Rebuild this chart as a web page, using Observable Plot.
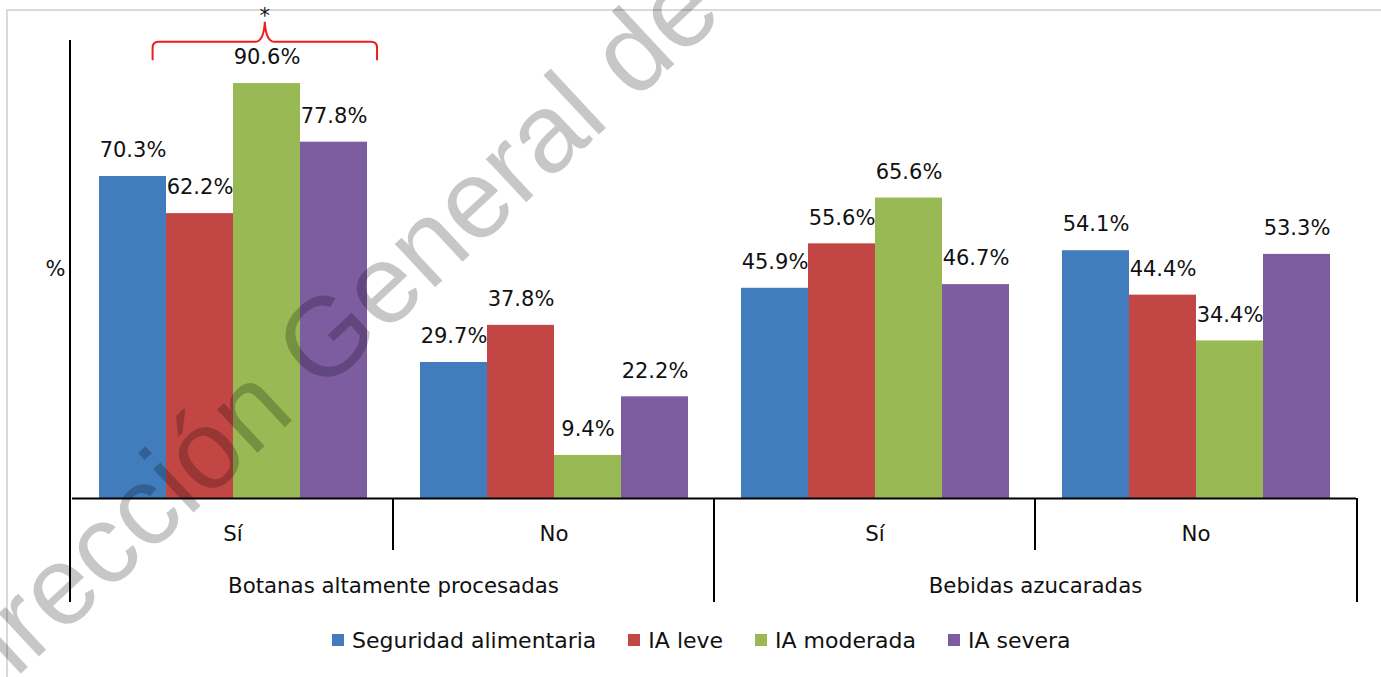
<!DOCTYPE html>
<html>
<head>
<meta charset="utf-8">
<script src="https://cdn.jsdelivr.net/npm/d3@7"></script>
<script src="https://cdn.jsdelivr.net/npm/@observablehq/plot@0.6"></script>
<style>
html, body { margin: 0; padding: 0; background: #fff; }
#page { position: relative; width: 1381px; height: 677px; overflow: hidden; font-family: "DejaVu Sans", sans-serif; }
#frame { position: absolute; left: 6px; top: 9px; right: -4px; bottom: -4px; border-left: 2px solid #dadada; border-top: 2px solid #dadada; }
#chart { position: absolute; left: 0; top: 0; }
#legend { position: absolute; left: 0; top: 628px; width: 1381px; height: 24px; display: flex; align-items: center; padding-left: 332px; box-sizing: border-box; font-size: 22px; color: #111; }
#legend .item { display: flex; align-items: center; margin-right: 32px; white-space: nowrap; }
#legend .sw { width: 12px; height: 12px; margin-right: 8px; }
#wm { position: absolute; left: 0; top: 0; pointer-events: none; }
</style>
</head>
<body>
<div id="page">
  <div id="frame"></div>
  <div id="chart"></div>
  <div id="legend"></div>
  <svg id="wm" width="1381" height="677"></svg>
</div>
<script>
// ---- data ----
const series = ["Seguridad alimentaria", "IA leve", "IA moderada", "IA severa"];
const colors = ["#417CBC", "#C24644", "#98B954", "#7D5CA0"];
const groups = ["Botanas altamente procesadas", "Bebidas azucaradas"];
const answers = ["Sí", "No"];
const botanasSi = [70.3, 62.2, 90.6, 77.8];
const botanasNo = [29.7, 37.8, 9.4, 22.2];
const bebidasSi = [45.9, 55.6, 65.6, 46.7];
const bebidasNo = [54.1, 44.4, 34.4, 53.3];
const yLabel = "%";
const starText = "*";
const watermark = "Dirección General de";

// ---- table ----
const valueSets = [[botanasSi, botanasNo], [bebidasSi, bebidasNo]];
const cats = [];
const rows = [];
groups.forEach((g, gi) => {
  answers.forEach((a, ai) => {
    const key = g + "|" + a;
    cats.push({key, group: g, answer: a, first: ai === 0});
    valueSets[gi][ai].forEach((v, si) => rows.push({key, series: series[si], value: v}));
  });
});
const keys = cats.map(d => d.key);
const fmt = v => v.toFixed(1) + "%";

const plot = Plot.plot({
  width: 1381,
  height: 615,
  marginLeft: 70,
  marginRight: 24,
  marginTop: 40,
  marginBottom: 117,
  style: {fontFamily: "DejaVu Sans, sans-serif", fontSize: "21px", color: "#111", background: "transparent", overflow: "visible"},
  fx: {domain: keys, paddingInner: 0, paddingOuter: 0, axis: null},
  x: {domain: series, paddingInner: 0, paddingOuter: 0.383, axis: null},
  y: {domain: [0, 100], axis: null},
  color: {domain: series, range: colors},
  marks: [
    Plot.barY(rows, {fx: "key", x: "series", y: "value", fill: "series", inset: 0}),
    Plot.text(rows, {fx: "key", x: "series", y: "value", text: d => fmt(d.value), dy: -26, lineAnchor: "middle", fontSize: 21, fill: "#111"}),
    Plot.ruleY([0], {stroke: "#000", strokeWidth: 2}),
    Plot.text(cats, {fx: "key", frameAnchor: "bottom", text: "answer", dy: 36, lineAnchor: "middle", textAnchor: "middle", fontSize: 21.3, fill: "#111"}),
    Plot.text(cats.filter(d => d.first), {fx: "key", frameAnchor: "bottom-right", text: "group", dy: 88, lineAnchor: "middle", textAnchor: "middle", fontSize: 21.3, fill: "#111"}),
    Plot.text([{key: keys[0], t: yLabel}], {fx: "key", frameAnchor: "left", text: "t", dx: -17, lineAnchor: "middle", textAnchor: "middle", fontSize: 21, fill: "#111"})
  ]
});
document.getElementById("chart").appendChild(plot);

// ---- axis dividers & annotation, derived from the plot's scales ----
const fx = plot.scale("fx"), xs = plot.scale("x"), ys = plot.scale("y");
const svg = d3.select(plot);
const bw = xs.bandwidth;
const xr = s => xs.apply(s) - xs.range[0];
const y0 = ys.apply(0);
const yTopAxis = ys.apply(100);
const shortLen = 52, longLen = 104;
const left = fx.range[0], right = fx.range[1];
const g = svg.append("g").attr("stroke", "#000").attr("stroke-width", 2);
g.append("line").attr("x1", left).attr("x2", left).attr("y1", yTopAxis).attr("y2", y0 + longLen);
cats.forEach((c, i) => {
  if (i === 0) return;
  const xx = fx.apply(c.key);
  const len = c.first ? longLen : shortLen;
  g.append("line").attr("x1", xx).attr("x2", xx).attr("y1", y0).attr("y2", y0 + len);
});
g.append("line").attr("x1", right).attr("x2", right).attr("y1", y0).attr("y2", y0 + longLen);

// brace with asterisk over the first category
const fx0 = fx.apply(keys[0]);
const bl = fx0 + xr(series[0]) + 0.8 * bw;
const br = fx0 + xr(series[3]) + 1.15 * bw;
const bm = (bl + br) / 2;
const yb = ys.apply(99.6), yt = ys.apply(95.6), yp = ys.apply(104);
const r = 6;
const path = `M${bl},${yt} L${bl},${yb + r} Q${bl},${yb} ${bl + r},${yb} L${bm - 10},${yb} Q${bm - 1},${yb} ${bm},${yp} Q${bm + 1},${yb} ${bm + 10},${yb} L${br - r},${yb} Q${br},${yb} ${br},${yb + r} L${br},${yt}`;
svg.append("path").attr("d", path).attr("fill", "none").attr("stroke", "#ee1d1d").attr("stroke-width", 2);
svg.append("text").attr("x", bm).attr("y", yp + 1).attr("text-anchor", "middle")
  .attr("font-family", "DejaVu Sans").attr("font-size", 21).attr("fill", "#111").text(starText);

// ---- legend ----
const leg = d3.select("#legend");
series.forEach((s, i) => {
  const it = leg.append("div").attr("class", "item");
  it.append("div").attr("class", "sw").style("background", colors[i]);
  it.append("span").text(s);
});

// ---- watermark ----
d3.select("#wm").append("text")
  .attr("transform", "translate(-44,734) rotate(-43)")
  .attr("font-family", "Liberation Sans, Arial, sans-serif")
  .attr("font-size", 112)
  .attr("fill", "#000")
  .attr("fill-opacity", 0.22)
  .text(watermark);
</script>
</body>
</html>
